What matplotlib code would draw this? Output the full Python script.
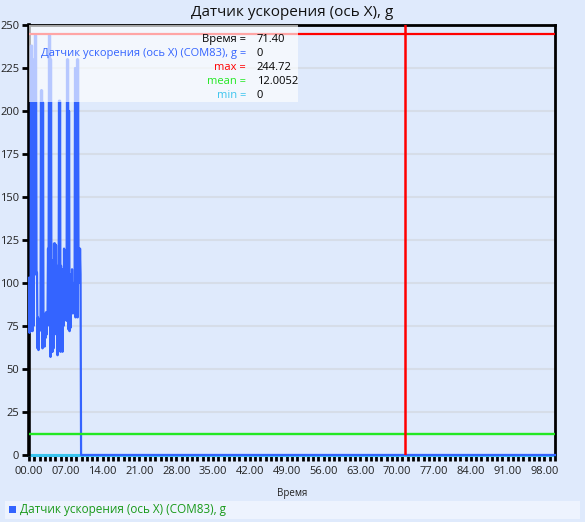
import numpy as np
import matplotlib
matplotlib.use("Agg")
import matplotlib.pyplot as plt
from matplotlib.patches import Rectangle
from matplotlib.ticker import MultipleLocator, FuncFormatter

plt.rcParams['font.family'] = ['Open Sans', 'DejaVu Sans']

# sensor readings, g (~0.094 s per sample)
accel = [103, 71, 100, 72, 238, 75, 238, 72, 230, 75, 200, 106, 244, 105, 244, 106,
         106, 62, 80, 61, 79, 72, 78, 73, 212, 75, 212, 62, 205, 64, 82, 63,
         82, 68, 83, 70, 82, 80, 120, 82, 244.72, 75, 244, 57, 230, 60, 113, 60,
         113, 62, 123, 70, 123, 72, 122, 85, 110, 58, 100, 62, 206, 85, 206, 60,
         110, 62, 102, 60, 108, 75, 120, 80, 119, 82, 118, 78, 230, 80, 230, 73,
         200, 72, 105, 74, 105, 82, 108, 85, 100, 83, 100, 82, 225, 80, 225, 82,
         230, 80, 230, 105, 120, 100, 120, 105]
t_end = 9.8
tail_t = [9.9, 100.0]
tail_v = [0, 0]

cursor_t = 71.40
cursor_v = 0
v_max = 244.72
v_mean = 12.0052
v_min = 0

title = "Датчик ускорения (ось X), g"
series_name = "Датчик ускорения (ось X) (COM83), g"

bg = "#dfeafc"
c_data = "#3464ff"
c_max = "#ff0000"
c_mean = "#22e822"
c_min = "#3cc4ee"

t = list(np.linspace(0, t_end, len(accel))) + tail_t
v = accel + tail_v

fig = plt.figure(figsize=(5.85, 5.22), dpi=100, facecolor=bg)
ax = fig.add_axes([29/585, 1-455/522, 526/585, 430/522], facecolor=bg)

ax.set_xlim(0, 100)
ax.set_ylim(0, 250)
ax.yaxis.set_major_locator(MultipleLocator(25))
ax.xaxis.set_major_locator(MultipleLocator(7))
ax.xaxis.set_minor_locator(MultipleLocator(1))
ax.xaxis.set_major_formatter(FuncFormatter(lambda x, p: "%05.2f" % x))
ax.grid(axis='y', color="#d6dde8", lw=1.5, zorder=0)
ax.set_axisbelow(True)

ax.axhline(v_min, color=c_min, lw=2.2, zorder=2, clip_on=False)
ax.plot(t, v, color=c_data, lw=1.6, zorder=3, clip_on=False)
ax.axhline(v_mean, color=c_mean, lw=1.7, zorder=4)
ax.axhline(v_max, color=c_max, lw=1.6, zorder=4)
ax.axvline(cursor_t, color=c_max, lw=1.8, zorder=4)

for s in ['left', 'top', 'right']:
    ax.spines[s].set_color('black')
ax.spines['left'].set_linewidth(2.6)
ax.spines['top'].set_linewidth(2.0)
ax.spines['right'].set_linewidth(2.0)
ax.spines['bottom'].set_visible(False)

ax.tick_params(axis='both', which='both', colors='black', labelcolor='#222222', labelsize=8)
ax.tick_params(axis='y', length=5, width=2, pad=2)
ax.tick_params(axis='x', which='major', length=4, width=2, pad=4)
ax.tick_params(axis='x', which='minor', length=4, width=2)
ax.set_xlabel("Время", fontsize=7, color='#222222', labelpad=8)

# cursor info box
ax.add_patch(Rectangle((0, 205.5), 51.2, 44.5, facecolor='white', alpha=0.65,
                       edgecolor='none', zorder=6))
rows = [("Время", "71.40", 'black'),
        (series_name, "0", c_data),
        ("max", "244.72", c_max),
        ("mean", "12.0052", c_mean),
        ("min", "0", c_min)]
for i, (lab, val, col) in enumerate(rows):
    y = 1 - (39 + 14 * i - 25) / 430
    ax.text(0.4125, y, lab + " =", transform=ax.transAxes, ha='right', va='center',
            fontsize=8, color=col, zorder=7)
    ax.text(0.4330, y, val, transform=ax.transAxes, ha='left', va='center',
            fontsize=8, color='black', zorder=7)

fig.text(292/585, 1-12/522, title, ha='center', va='center', fontsize=11, color='#111111')

# legend strip
fig.patches.append(Rectangle((5/585, 1-519/522), 575/585, 18/522, transform=fig.transFigure,
                             facecolor='#edf3fe', edgecolor='none'))
fig.patches.append(Rectangle((9/585, 1-513/522), 7/585, 7/522, transform=fig.transFigure,
                             facecolor=c_data, edgecolor='none'))
fig.text(20/585, 1-509.5/522, series_name, ha='left', va='center', fontsize=8.5, color='#1a9a1a')

fig.savefig("out.png", dpi=100, facecolor=bg)
